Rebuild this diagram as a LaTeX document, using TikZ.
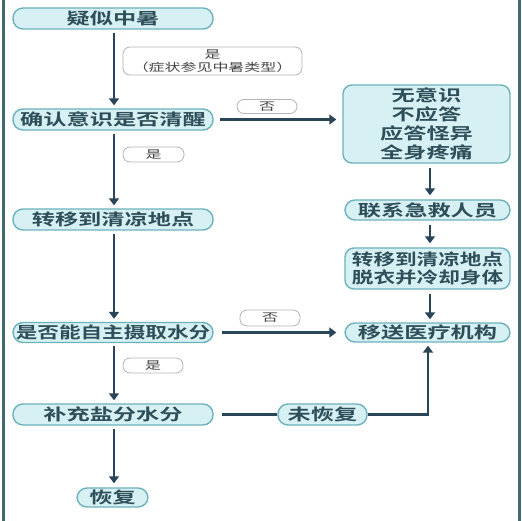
\documentclass[tikz,border=0pt]{standalone}
\usepackage{fontspec}
\setmainfont{Noto Sans CJK SC}
\newfontfamily\cjkb[FakeStretch=1.45]{Noto Sans CJK SC Bold}
\newfontfamily\cjkbn[FakeStretch=1.35]{Noto Sans CJK SC Bold}
\newfontfamily\cjkr[FakeStretch=1.45]{Noto Sans CJK SC}
\usetikzlibrary{arrows.meta,calc}
\definecolor{framec}{HTML}{3F6B73}
\definecolor{nodefill}{HTML}{D7F0F3}
\definecolor{nodeedge}{HTML}{6CB2BD}
\definecolor{nodetext}{HTML}{2E4F5A}
\definecolor{arrowc}{HTML}{2B4558}
\definecolor{labedge}{HTML}{B4B4B4}
\definecolor{labtext}{HTML}{444444}
\tikzset{
  pill/.style={draw=nodeedge, line width=1.4pt, fill=nodefill, rounded corners=10pt,
    text=nodetext, font=\fontsize{16}{19}\selectfont\cjkb, inner sep=0pt, align=center},
  rbox/.style={pill, rounded corners=9pt},
  lab/.style={draw=labedge, line width=0.8pt, fill=white, rounded corners=7pt,
    text=labtext, font=\fontsize{11}{13}\selectfont\cjkr, inner sep=0pt, align=center},
  flow/.style={draw=arrowc, line width=2.6pt, -{Triangle[length=7pt,width=10pt]}},
  plain/.style={draw=arrowc, line width=2.6pt},
}
\begin{document}
\begin{tikzpicture}[x=1pt,y=-1pt]
\useasboundingbox (0,0) rectangle (522,521);
\fill[white] (0,0) rectangle (522,521);
\draw[framec, line width=3pt] (3,0) -- (3,521);
\draw[framec, line width=3pt] (519,0) -- (519,521);

% left column
\node[pill, minimum width=200pt, minimum height=21pt] (n1) at (113,18.5) {疑似中暑};
\node[pill, minimum width=200pt, minimum height=21pt] (n2) at (113,119.5) {确认意识是否清醒};
\node[pill, minimum width=200pt, minimum height=21pt] (n3) at (113,219.5) {转移到清凉地点};
\node[pill, minimum width=200pt, minimum height=20pt, font=\fontsize{16}{19}\selectfont\cjkbn] (n4) at (113,332.5) {是否能自主摄取水分};
\node[pill, minimum width=200pt, minimum height=21pt] (n5) at (113,414.5) {补充盐分水分};
\node[pill, minimum width=71pt, minimum height=19pt] (n6) at (112.5,497.5) {恢复};

% right column
\node[rbox, minimum width=167pt, minimum height=78pt] (r1) at (426.5,124) {无意识\\不应答\\应答怪异\\全身疼痛};
\node[pill, minimum width=165pt, minimum height=20pt] (r2) at (427.5,210) {联系急救人员};
\node[rbox, minimum width=165pt, minimum height=41pt, font=\fontsize{16}{18.5}\selectfont\cjkbn] (r3) at (427.5,268.5) {转移到清凉地点\\脱衣并冷却身体};
\node[pill, minimum width=165pt, minimum height=19pt] (r4) at (427.5,332.5) {移送医疗机构};
\node[pill, minimum width=89pt, minimum height=21pt] (m) at (322.5,414.5) {未恢复};

% labels
\node[lab, minimum width=179pt, minimum height=28pt] (l1) at (212.5,61) {是\\（症状参见中暑类型）};
\node[lab, minimum width=60pt, minimum height=14pt] (l2) at (267,106.5) {否};
\node[lab, minimum width=61pt, minimum height=15pt] (l3) at (153.5,154.5) {是};
\node[lab, minimum width=60pt, minimum height=16pt] (l4) at (270,318) {否};
\node[lab, minimum width=60pt, minimum height=15pt] (l5) at (153,365.5) {是};

% connectors
\draw[flow, shorten <=3pt, shorten >=3pt] (n1.south -| 114,0) -- (n2.north -| 114,0);
\draw[flow, shorten <=3pt, shorten >=3pt] (n2.south -| 114,0) -- (n3.north -| 114,0);
\draw[flow, shorten <=3pt, shorten >=3pt] (n3.south -| 114,0) -- (n4.north -| 114,0);
\draw[flow, shorten <=3pt, shorten >=3pt] (n4.south -| 114,0) -- (n5.north -| 114,0);
\draw[flow, shorten <=3pt, shorten >=4pt] (n5.south -| 114,0) -- (n6.north -| 114,0);
\draw[flow, shorten <=6pt, shorten >=6pt] (n2.east) -- (n2.east -| r1.west);
\draw[flow, shorten <=4pt, shorten >=4pt] (r1.south -| 430,0) -- (r2.north -| 430,0);
\draw[flow, shorten <=4pt, shorten >=4pt] (r2.south -| 430,0) -- (r3.north -| 430,0);
\draw[flow, shorten <=4pt, shorten >=3pt] (r3.south -| 430,0) -- (r4.north -| 430,0);
\draw[flow, shorten <=8pt, shorten >=8pt] (n4.east) -- (r4.west);
\draw[plain, shorten <=8pt] (n5.east) -- (m.west);
\draw[flow, shorten >=3pt] (m.east) -| (r4.south -| 428,0);
\end{tikzpicture}
\end{document}
